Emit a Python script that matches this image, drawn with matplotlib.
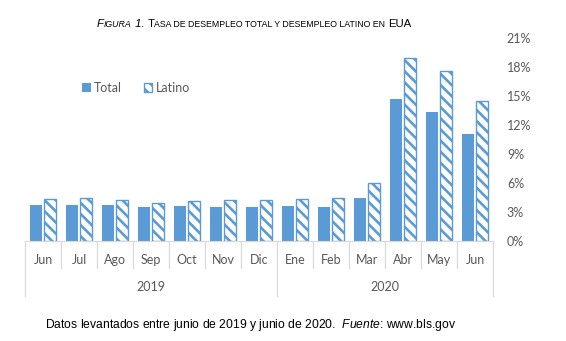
import matplotlib
matplotlib.use("Agg")
import matplotlib.pyplot as plt
import numpy as np
from matplotlib.patches import Patch
from matplotlib.offsetbox import TextArea, HPacker, AnnotationBbox

# data
months = ["Jun", "Jul", "Ago", "Sep", "Oct", "Nov", "Dic",
          "Ene", "Feb", "Mar", "Abr", "May", "Jun"]
years = ["2019", "2020"]
year_spans = [(0, 7), (7, 13)]
total = [3.7, 3.7, 3.7, 3.5, 3.6, 3.5, 3.5, 3.6, 3.5, 4.4, 14.7, 13.3, 11.1]
latino = [4.3, 4.5, 4.2, 3.9, 4.1, 4.2, 4.2, 4.3, 4.4, 6.0, 18.9, 17.6, 14.5]
yticks = [0, 3, 6, 9, 12, 15, 18, 21]

blue = "#5B9BD5"
grey = "#D9D9D9"
txt = "#595959"
plt.rcParams["hatch.linewidth"] = 1.9
plt.rcParams["mathtext.fontset"] = "custom"
plt.rcParams["mathtext.it"] = "Liberation Sans:italic"
plt.rcParams["mathtext.rm"] = "Liberation Sans"

fig = plt.figure(figsize=(5.66, 3.41), dpi=100)
ax = fig.add_axes([25 / 566, 1 - 241 / 341, 468 / 566, 203 / 341])

x = np.arange(len(months))
w = 0.31
ax.bar(x - 0.195, total, w, color=blue, linewidth=0)
ax.bar(x + 0.195, latino, w, color="white", edgecolor=blue, hatch="\\\\\\", linewidth=1)

ax.set_xlim(-0.5, len(months) - 0.5)
ax.set_ylim(0, 21)
ax.yaxis.tick_right()
ax.set_yticks(yticks)
ax.set_yticklabels([f"{v}%" for v in yticks], fontsize=9, color=txt, family="Lato")
ax.tick_params(axis="y", length=0, pad=10)
ax.set_xticks([])
for s in ["top", "left", "right"]:
    ax.spines[s].set_visible(False)
ax.spines["bottom"].set_color(grey)

# multi-level category axis
tr = ax.get_xaxis_transform()
for i, m in enumerate(months):
    ax.text(i, -0.094, m, transform=tr, ha="center", va="center",
            fontsize=9, color=txt, family="Lato")
bounds = [s for s, e in year_spans] + [year_spans[-1][1]]
for i in range(len(months) + 1):
    y_end = -0.271 if i in bounds else -0.133
    ax.plot([i - 0.5, i - 0.5], [0, y_end], transform=tr, color=grey,
            lw=0.9, clip_on=False)
for yr, (s, e) in zip(years, year_spans):
    ax.text((s + e - 1) / 2, -0.227, yr, transform=tr, ha="center", va="center",
            fontsize=9, color=txt, family="Lato")

# legend
handles = [Patch(facecolor=blue, linewidth=0, label="Total"),
           Patch(facecolor="white", edgecolor=blue, hatch="\\\\\\", linewidth=1, label="Latino")]
fig.legend(handles=handles, loc="center", bbox_to_anchor=(136 / 566, 1 - 88 / 341),
           ncol=2, frameon=False, handlelength=0.7, handleheight=0.7,
           handletextpad=0.3, columnspacing=1.7,
           prop={"family": "Lato", "size": 9}, labelcolor=txt)


def rich_line(pieces, xy):
    boxes = [TextArea(t, textprops=dict(fontsize=fs, style=st, family="Liberation Sans", color="black"))
             for t, fs, st in pieces]
    pack = HPacker(children=boxes, align="baseline", pad=0, sep=0)
    ab = AnnotationBbox(pack, xy, xycoords="figure pixels", frameon=False,
                        box_alignment=(0.5, 0.5))
    fig.add_artist(ab)


# small-caps title
big, small = 8.2, 6.3
rich_line([("F", big, "italic"), ("IGURA", small, "italic"), (" 1. ", big, "italic"),
           ("T", big, "normal"), ("ASA DE DESEMPLEO TOTAL Y DESEMPLEO LATINO EN ", small, "normal"),
           ("EUA", big, "normal")], (254, 341 - 24))

fig.text(251 / 566, 1 - 325 / 341,
         r"Datos levantados entre junio de 2019 y junio de 2020.  $\mathit{Fuente}$: www.bls.gov",
         ha="center", va="center", fontsize=8.7, family="Liberation Sans")

fig.savefig("out.png", dpi=100)
